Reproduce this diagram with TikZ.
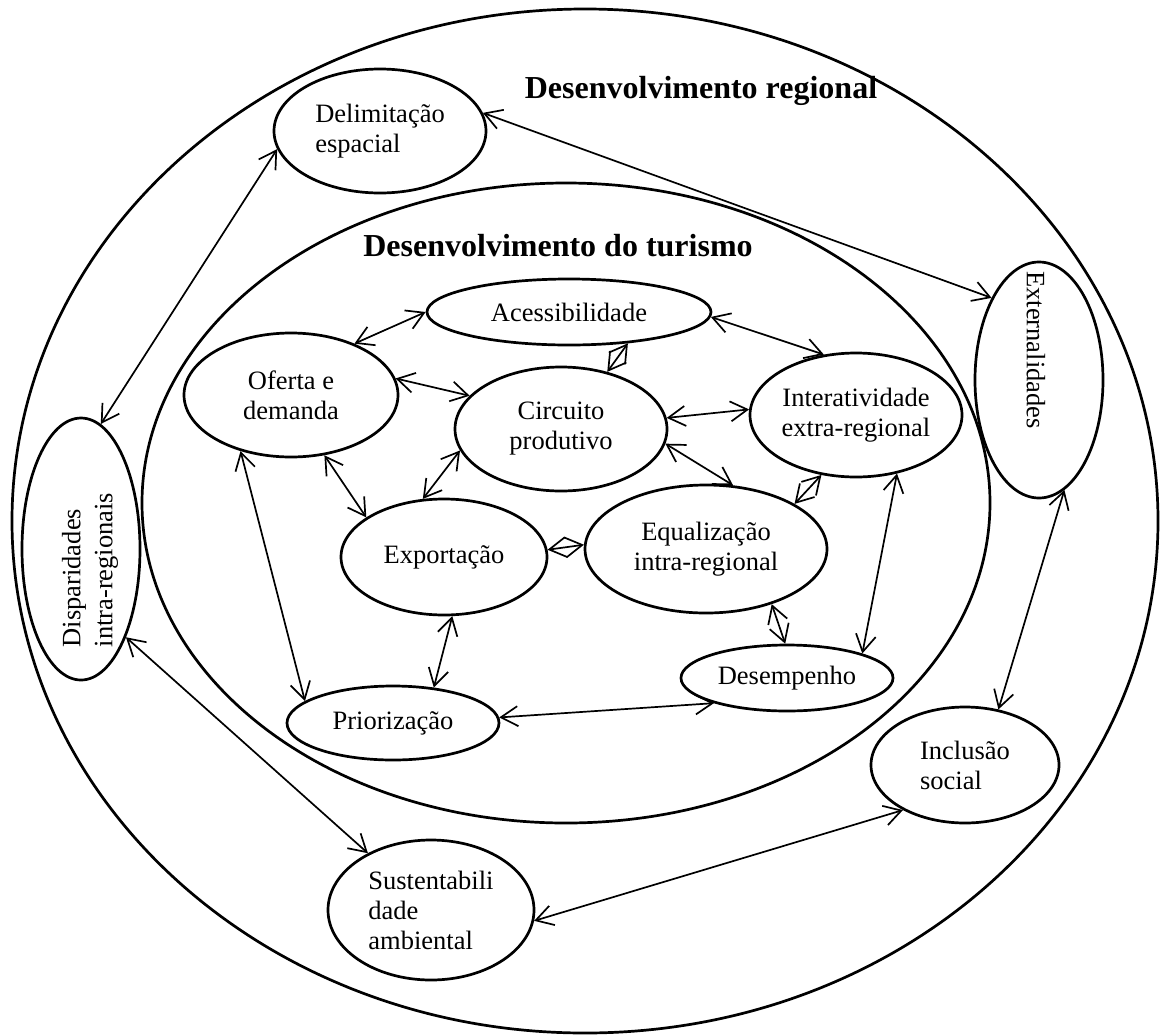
\documentclass[tikz,border=0pt]{standalone}
\usepackage{fontspec}
\setmainfont{Liberation Serif}
\usetikzlibrary{shapes.geometric,arrows.meta}

\begin{document}
\begin{tikzpicture}[x=1pt,y=-1pt,
  frame/.style={ellipse,draw,line width=2.7pt,inner sep=0pt},
  concept/.style={ellipse,draw,line width=2.7pt,inner sep=0pt,
    font=\fontsize{26.5}{30}\selectfont},
  label text/.style={font=\fontsize{26.5}{32}\selectfont},
  title/.style={font=\fontsize{32}{36}\selectfont\bfseries},
  barb/.tip={Straight Barb[length=17pt,width=20pt]},
  link/.style={line width=1.7pt,barb-barb},
]
\useasboundingbox (0,0) rectangle (1162,1034);

% two nested fields
\node[frame,minimum width=1146pt,minimum height=1024pt] (outer) at (585,521) {};
\node[frame,minimum width=848pt,minimum height=640pt] (inner) at (566,503) {};

\node[title,anchor=base] (tregional) at (701,98) {Desenvolvimento regional};
\node[title,anchor=base] (tturismo) at (558,256) {Desenvolvimento do turismo};

% regional development
\node[concept,align=left,minimum width=212pt,minimum height=124pt] (delim) at (380,131) {Delimitação\\espacial};
\node[concept,minimum width=128pt,minimum height=236pt] (ext) at (1039,380) {};
\node[label text,rotate=-90] (extT) at (1036,350) {Externalidades};
\node[concept,minimum width=118pt,minimum height=262pt] (disp) at (81,549) {};
\node[label text,rotate=90,align=left] (dispT) at (90,570) {Disparidades\\intra-regionais};
\node[concept,align=left,minimum width=188pt,minimum height=116pt] (incl) at (965,765) {Inclusão\\social};
\node[concept,align=left,minimum width=206pt,minimum height=140pt] (sust) at (431,910) {Sustentabili\\dade\\ambiental};

% tourism development
\node[concept,minimum width=284pt,minimum height=66pt] (acess) at (569,312) {Acessibilidade};
\node[concept,align=center,minimum width=214pt,minimum height=124pt] (oferta) at (291,395) {Oferta e\\demanda};
\node[concept,align=center,minimum width=212pt,minimum height=124pt] (circ) at (561,429) {Circuito\\produtivo};
\node[concept,align=center,minimum width=212pt,minimum height=124pt] (inter) at (856,415) {Interatividade\\extra-regional};
\node[concept,minimum width=206pt,minimum height=116pt] (export) at (444,557) {Exportação};
\node[concept,align=center,minimum width=242pt,minimum height=128pt] (equal) at (706,549) {Equalização\\intra-regional};
\node[concept,minimum width=212pt,minimum height=66pt] (desemp) at (787,678) {Desempenho};
\node[concept,minimum width=212pt,minimum height=74pt] (prior) at (393,723) {Priorização};

% links of the regional field
\draw[link] (delim.190) -- (disp.81);
\draw[link] (delim.10) -- (ext.120);
\draw[link] (ext.283) -- (incl.59);
\draw[link] (disp.-63) -- (sust.138);
\draw[link] (sust.-6) -- (incl.-144);

% links of the tourism field
\draw[link] (acess.180) -- (oferta.39);
\draw[link] (oferta.9) -- (circ.160);
\draw[link] (acess.-28) -- (circ.51);
\draw[link] (acess.-2) -- (inter.118);
\draw[link] (circ.6) -- (inter.177);
\draw[link] (circ.-8) -- (equal.67);
\draw[link] (inter.240) -- (equal.27);
\draw[link] (inter.-55) -- (desemp.18);
\draw[link] (oferta.-61) -- (export.153);
\draw[link] (circ.192) -- (export.110);
\draw[link] (export.4) -- (equal.178);
\draw[link] (equal.-40) -- (desemp.93);
\draw[link] (export.-82) -- (prior.41);
\draw[link] (prior.3) -- (desemp.-161);
\draw[link] (oferta.-132) -- (prior.166);
\end{tikzpicture}
\end{document}
